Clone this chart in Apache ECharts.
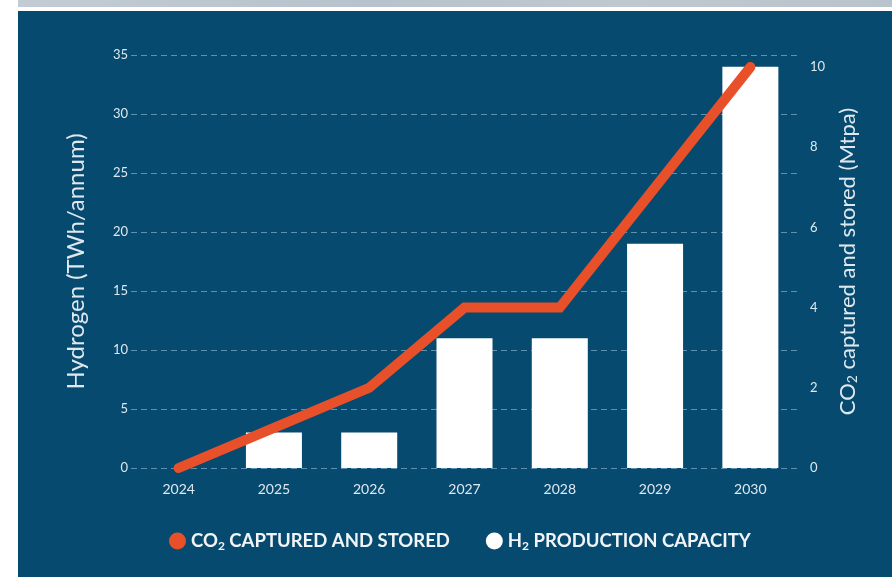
<!DOCTYPE html>
<html>
<head>
<meta charset="utf-8">
<script src="https://cdn.jsdelivr.net/npm/echarts@6/dist/echarts.min.js"></script>
<style>
html,body{margin:0;padding:0;width:892px;height:577px;background:#ffffff;overflow:hidden;}
#strip{position:absolute;left:18px;top:0;width:874px;height:7px;background:linear-gradient(90deg,#c3ccd4,#b7c2cc 40%,#c0c8cf 70%,#b9c3cb);}
#panel{position:absolute;left:18px;top:11px;width:874px;height:566px;background:#064a6f;}
#chart{position:absolute;left:0;top:0;width:892px;height:577px;}
</style>
</head>
<body>
<div id="strip"></div>
<div id="panel"></div>
<div id="chart"></div>
<script>
var years = ['2024','2025','2026','2027','2028','2029','2030'];
var h2Capacity = [null, 3, 3, 11, 11, 19, 34];
var co2Stored = [0, 1, 2, 4, 4, 7, 10];
var leftTicks = [0, 5, 10, 15, 20, 25, 30, 35];
var rightTicks = [0, 2, 4, 6, 8, 10];

var chart = echarts.init(document.getElementById('chart'), null, {renderer:'canvas'});
var txt = '#dfe8ef';
var font = 'Lato, "Open Sans", sans-serif';
chart.setOption({
  backgroundColor: 'transparent',
  animation: false,
  grid: {left: 131, right: 94, top: 55, bottom: 109, containLabel: false},
  legend: {
    bottom: 20,
    left: 164,
    itemGap: 36,
    icon: 'circle',
    itemWidth: 17,
    itemHeight: 17,
    selectedMode: false,
    data: [{name: 'co2'}, {name: 'h2'}],
    formatter: function (n) {
      return n === 'co2' ? '{a|CO}{s|2}{a| CAPTURED AND STORED}' : '{a|H}{s|2}{a| PRODUCTION CAPACITY}';
    },
    textStyle: {
      color: '#f2f5f8',
      rich: {
        a: {fontFamily: font, fontSize: 18.5, fontWeight: 'bold', color: '#f2f5f8', lineHeight: 24},
        s: {fontFamily: font, fontSize: 12, fontWeight: 'bold', color: '#f2f5f8', lineHeight: 24, padding: [10, 0, 0, 0]}
      }
    }
  },
  xAxis: {
    type: 'category',
    data: years,
    boundaryGap: true,
    axisLine: {show: false},
    axisTick: {show: false},
    axisLabel: {color: txt, fontFamily: font, fontSize: 14, margin: 14}
  },
  yAxis: [{
    type: 'value',
    min: leftTicks[0],
    max: leftTicks[leftTicks.length - 1],
    interval: 5,
    name: 'Hydrogen (TWh/annum)',
    nameLocation: 'middle',
    nameRotate: 90,
    nameGap: 43,
    nameTextStyle: {color: txt, fontFamily: font, fontSize: 24},
    axisLine: {show: false},
    axisTick: {show: false},
    axisLabel: {color: txt, fontFamily: font, fontSize: 13, margin: 3},
    splitLine: {show: true, lineStyle: {color: 'rgba(170,205,230,0.55)', width: 1, type: [6, 4]}}
  }, {
    type: 'value',
    min: rightTicks[0],
    max: 10.3,
    interval: 2,
    position: 'right',
    name: '{a|CO}{s|2}{a| captured and stored (Mtpa)}',
    nameLocation: 'middle',
    nameRotate: 90,
    nameGap: 36,
    nameTextStyle: {
      color: txt,
      rich: {
        a: {fontFamily: font, fontSize: 22, color: txt, lineHeight: 26},
        s: {fontFamily: font, fontSize: 14, color: txt, lineHeight: 26, padding: [10, 0, 0, 0]}
      }
    },
    axisLine: {show: false},
    axisTick: {show: false},
    axisLabel: {
      color: txt, fontFamily: font, fontSize: 13, margin: 12,
      formatter: function (v) { return rightTicks.indexOf(v) >= 0 ? String(v) : ''; }
    },
    splitLine: {show: false}
  }],
  series: [{
    name: 'h2',
    type: 'bar',
    yAxisIndex: 0,
    data: h2Capacity,
    barWidth: 56,
    itemStyle: {color: '#ffffff'},
    z: 2
  }, {
    name: 'co2',
    type: 'line',
    yAxisIndex: 1,
    data: co2Stored,
    symbol: 'none',
    itemStyle: {color: '#e8502a'},
    lineStyle: {color: '#e8502a', width: 10, cap: 'round', join: 'miter'},
    z: 3
  }]
});
</script>
</body>
</html>
